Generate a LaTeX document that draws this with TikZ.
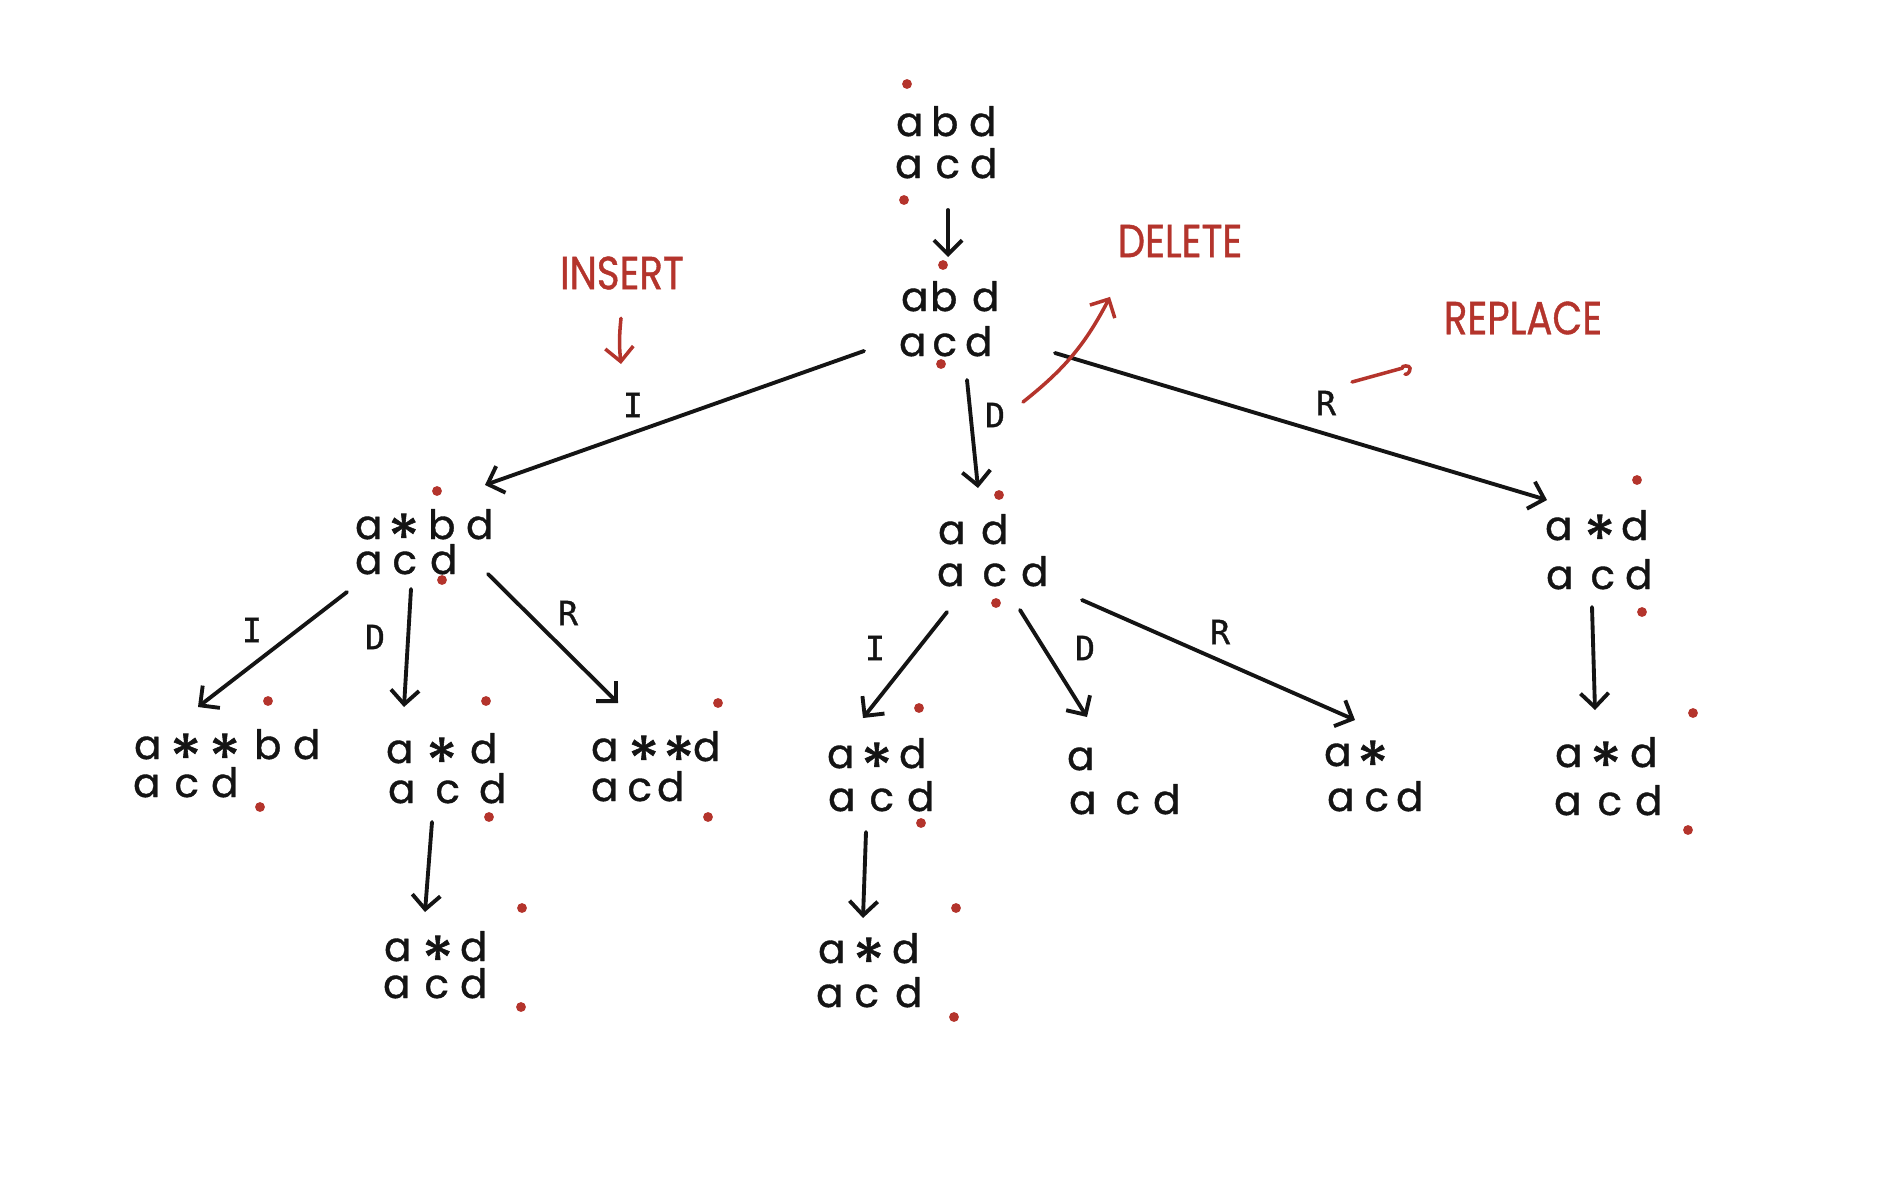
\documentclass[tikz,border=0pt]{standalone}
\usepackage{fontspec}
\setmainfont{Poppins}
\newfontfamily\hand[FakeBold=0.9]{Poppins}
\newfontfamily\lblfont[FakeBold=1]{DejaVu Sans Mono}
\usetikzlibrary{arrows.meta}

\definecolor{ink}{RGB}{20,20,20}
\definecolor{pen}{RGB}{180,52,44}

% one drawing unit = one pixel of the sketch
\newdimen\pxu \pxu=0.01cm
% a letter centred at #1 units from the left end of its row
\newcommand\lt[2]{\rlap{\hspace{#1\pxu}\makebox[0pt]{#2}}}
% two rows: the second one dropped by #1 units
\newcommand\twor[3]{#2\raisebox{-#1\pxu}{#3}}
% the gap symbol, sitting on the baseline like a letter (box kept above the baseline)
\newcommand\st{\raisebox{-0.55em}[0.62em][0pt]{\scalebox{1.6}{*}}}

\tikzset{
  tn/.style={inner sep=0pt, outer sep=0pt, anchor=base west,
             font=\hand\fontsize{11.5}{11.5}\selectfont, text=ink},
  edge/.style={draw=ink, line width=1.1pt, line cap=round,
               -{Straight Barb[length=4pt,width=8pt,line width=1.1pt]}},
  lbl/.style={font=\lblfont\fontsize{9.5}{9.5}\selectfont, text=ink, inner sep=0pt},
  note/.style={font=\hand\fontsize{11}{11}\selectfont, text=pen, inner sep=0pt},
  penarrow/.style={draw=pen, line width=1pt, line cap=round,
               -{Straight Barb[length=4pt,width=8pt,line width=1pt]}},
  penline/.style={draw=pen, line width=1pt, line cap=round},
  dot/.style={fill=pen}
}

\begin{document}
\begin{tikzpicture}[x=0.01cm, y=-0.01cm]
\useasboundingbox[fill=white] (0,0) rectangle (1900,1200);

% ---------- alignment states ----------
\node[tn] (root) at (895,136) {\twor{42}{\lt{13}{a}\lt{48}{b}\lt{86}{d}}{\lt{12}{a}\lt{51}{c}\lt{87}{d}}};
\node[tn] (n1)   at (899,311) {\twor{45}{\lt{14}{a}\lt{43}{b}\lt{85}{d}}{\lt{12}{a}\lt{44}{c}\lt{78}{d}}};

\node[tn] (L)  at (355,539)  {\twor{35}{\lt{12}{a}\lt{47}{\st}\lt{85}{b}\lt{123}{d}}{\lt{12}{a}\lt{48}{c}\lt{87}{d}}};
\node[tn] (M)  at (935,544)  {\twor{42}{\lt{15}{a}\lt{58}{d}}{\lt{14}{a}\lt{58}{c}\lt{98}{d}}};
\node[tn] (Rn) at (1542,540) {\twor{49}{\lt{15}{a}\lt{56}{\st}\lt{91}{d}}{\lt{16}{a}\lt{59}{c}\lt{95}{d}}};

\node[tn] (LL) at (132,759)  {\twor{38}{\lt{14}{a}\lt{52}{\st}\lt{91}{\st}\lt{134}{b}\lt{173}{d}}{\lt{13}{a}\lt{53}{c}\lt{91}{d}}};
\node[tn] (LM) at (386,763)  {\twor{40}{\lt{12}{a}\lt{54}{\st}\lt{96}{d}}{\lt{14}{a}\lt{60}{c}\lt{105}{d}}};
\node[tn] (LR) at (590,761)  {\twor{40}{\lt{13}{a}\lt{52}{\st}\lt{87}{\st}\lt{115}{d}}{\lt{13}{a}\lt{48}{c}\lt{79}{d}}};
\node[tn] (MI) at (823,768)  {\twor{43}{\lt{16}{a}\lt{52}{\st}\lt{88}{d}}{\lt{17}{a}\lt{57}{c}\lt{96}{d}}};
\node[tn] (MD) at (1064,770) {\twor{44}{\lt{15}{a}}{\lt{17}{a}\lt{62}{c}\lt{101}{d}}};
\node[tn] (MR) at (1320,766) {\twor{45}{\lt{16}{a}\lt{51}{\st}}{\lt{19}{a}\lt{55}{c}\lt{88}{d}}};
\node[tn] (RR) at (1552,767) {\twor{48}{\lt{15}{a}\lt{52}{\st}\lt{90}{d}}{\lt{14}{a}\lt{56}{c}\lt{95}{d}}};

\node[tn] (LMc) at (383,961) {\twor{37}{\lt{13}{a}\lt{53}{\st}\lt{89}{d}}{\lt{12}{a}\lt{52}{c}\lt{89}{d}}};
\node[tn] (MIc) at (815,963) {\twor{44}{\lt{15}{a}\lt{52}{\st}\lt{89}{d}}{\lt{13}{a}\lt{50}{c}\lt{92}{d}}};

% ---------- cursor marks ----------
\foreach \p in {(907,84),(904,200),(943,265),(941,364),
                (437,491),(442,580),(999,495),(996,603),(1637,480),(1642,612),
                (268,701),(260,807),(486,701),(489,817),(718,703),(708,817),
                (919,708),(921,823),(1693,713),(1688,830),
                (522,908),(521,1007),(956,908),(954,1017)}
  \fill[dot] \p circle[radius=1.4pt];

% ---------- moves ----------
\draw[edge] ([shift={(53,74)}]root.base west) -- ([shift={(49,-54)}]n1.base west);

\draw[edge] ([shift={(-35,40)}]n1.base west) -- ([shift={(130,-54)}]L.base west);
\draw[edge] ([shift={(68,69)}]n1.base west)  -- ([shift={(43,-56)}]M.base west);
\draw[edge] ([shift={(156,42)}]n1.base west) -- ([shift={(5,-40)}]Rn.base west);

\draw[edge] ([shift={(-8,53)}]L.base west)  -- ([shift={(66,-52)}]LL.base west);
\draw[edge] ([shift={(56,50)}]L.base west)  -- ([shift={(18,-56)}]LM.base west);
\draw[edge] ([shift={(133,35)}]L.base west) -- ([shift={(28,-58)}]LR.base west);

\draw[edge] ([shift={(12,68)}]M.base west)  -- ([shift={(40,-50)}]MI.base west);
\draw[edge] ([shift={(85,66)}]M.base west)  -- ([shift={(23,-53)}]MD.base west);
\draw[edge] ([shift={(147,56)}]M.base west) -- ([shift={(35,-46)}]MR.base west);

\draw[edge] ([shift={(50,67)}]Rn.base west) -- ([shift={(43,-57)}]RR.base west);

\draw[edge] ([shift={(46,59)}]LM.base west) -- ([shift={(42,-49)}]LMc.base west);
\draw[edge] ([shift={(43,64)}]MI.base west) -- ([shift={(48,-45)}]MIc.base west);

% ---------- move labels ----------
\node[lbl] (eI1) at (633,405)  {I};
\node[lbl] (eD1) at (995,415)  {D};
\node[lbl] (eR1) at (1326,403) {R};
\node[lbl] (eI2) at (252,630)  {I};
\node[lbl] (eD2) at (375,637)  {D};
\node[lbl] (eR2) at (568,613)  {R};
\node[lbl] (eI3) at (875,648)  {I};
\node[lbl] (eD3) at (1085,648) {D};
\node[lbl] (eR3) at (1220,632) {R};

% ---------- annotations ----------
\node[note] (ins) at (622,273)  {\scalebox{1}[1.2]{INSERT}};
\node[note] (del) at (1180,241) {\scalebox{1}[1.2]{DELETE}};
\node[note] (rep) at (1523,318) {\scalebox{1}[1.2]{REPLACE}};

\coordinate (insTip)  at (621,364);
\coordinate (delTail) at (1023,402);
\coordinate (repTail) at (1352,382);

\draw[penarrow] ([shift={(-1,28)}]ins.south) to[bend right=6] (insTip);
\draw[penarrow] (delTail) to[bend right=12] ([shift={(-70,39)}]del.south);
\draw[penline] (repTail) -- ([shift={(-121,33)}]rep.south)
  to[out=100,in=90] ++(8,0) to[out=-90,in=-10] ++(-5,6);
\end{tikzpicture}
\end{document}
